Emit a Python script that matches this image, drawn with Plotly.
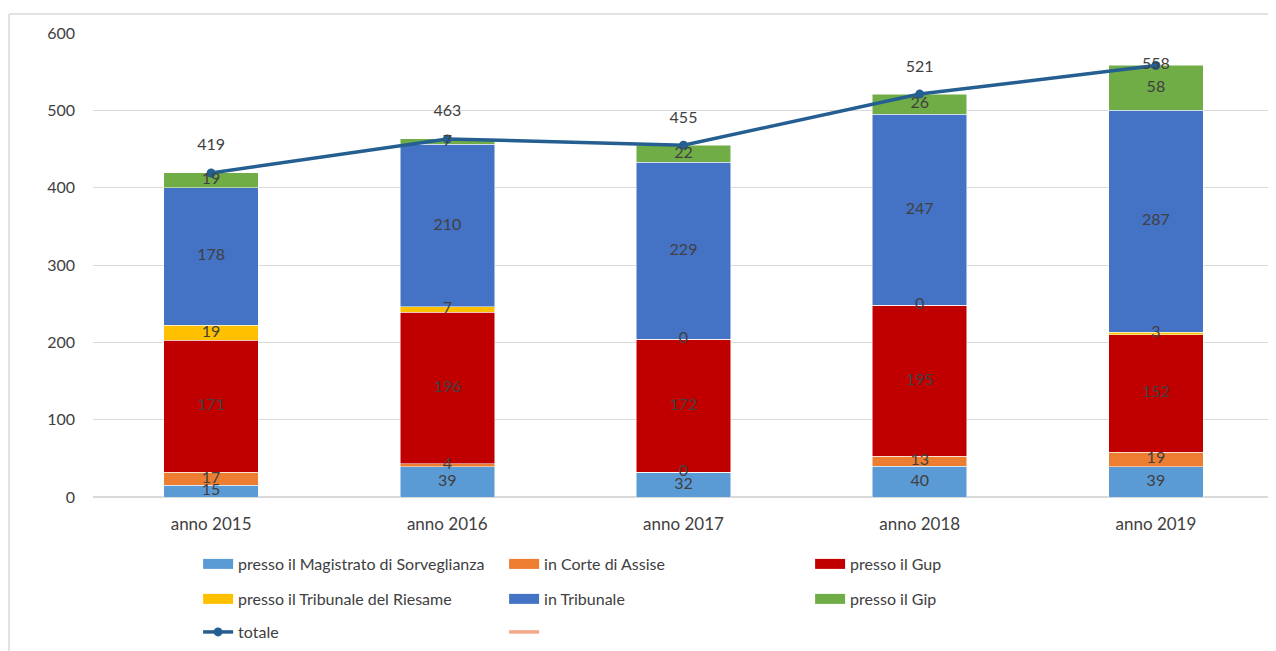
# Grafico a barre impilate con linea del totale
import plotly.graph_objects as go

# Dati
anni = ["anno 2015", "anno 2016", "anno 2017", "anno 2018", "anno 2019"]
magistrato = [15, 39, 32, 40, 39]
corte_assise = [17, 4, 0, 13, 19]
gup = [171, 196, 172, 195, 152]
riesame = [19, 7, 0, 0, 3]
tribunale = [178, 210, 229, 247, 287]
gip = [19, 7, 22, 26, 58]
totale = [419, 463, 455, 521, 558]

serie = [
    ("presso il Magistrato di Sorveglianza", magistrato, "#5B9BD5", "legend"),
    ("in Corte di Assise", corte_assise, "#ED7D31", "legend"),
    ("presso il Gup", gup, "#C00000", "legend"),
    ("presso il Tribunale del Riesame", riesame, "#FFC000", "legend2"),
    ("in Tribunale", tribunale, "#4472C4", "legend2"),
    ("presso il Gip", gip, "#70AD47", "legend2"),
]

font = "Lato, Noto Sans, sans-serif"
grigio = "#404040"

fig = go.Figure()
base = [0] * len(anni)
lab_x, lab_y, lab_t = [], [], []
for nome, valori, colore, leg in serie:
    fig.add_trace(go.Bar(
        x=anni, y=valori, name=nome, marker_color=colore,
        marker_line=dict(color="white", width=0.5),
        legendgroup=nome, showlegend=False,
    ))
    # voce di legenda a rettangolo largo
    fig.add_trace(go.Scatter(
        x=[None], y=[None], name=nome, mode="lines", legendgroup=nome,
        line=dict(color=colore, width=10), legend=leg,
    ))
    # etichette al centro di ogni segmento (anche per gli zeri)
    for i, v in enumerate(valori):
        lab_x.append(anni[i])
        lab_y.append(base[i] + v / 2)
        lab_t.append(str(v))
        base[i] += v

fig.add_trace(go.Scatter(
    x=anni, y=totale, name="totale", mode="lines+markers",
    line=dict(color="#255E91", width=3.5), marker=dict(size=9, color="#255E91"),
    legend="legend3", cliponaxis=False,
))
# voce vuota in legenda (serie senza dati)
fig.add_trace(go.Scatter(
    x=[None], y=[None], name=" ", mode="lines",
    line=dict(color="#F4A88A", width=3.5), legend="legend3",
))

fig.add_trace(go.Scatter(
    x=lab_x, y=lab_y, text=lab_t, mode="text", showlegend=False,
    textfont=dict(family=font, size=16, color=grigio), cliponaxis=False,
    hoverinfo="skip",
))
# etichette del totale
pos = ["top center"] * 4 + ["middle center"]
fig.add_trace(go.Scatter(
    x=anni, y=totale, text=[str(v) for v in totale], mode="markers+text",
    marker=dict(size=[28, 28, 28, 28, 1], opacity=0), textposition=pos,
    showlegend=False, cliponaxis=False, hoverinfo="skip",
    textfont=dict(family=font, size=16, color=grigio),
))

leg_base = dict(orientation="h", x=0.089, xanchor="left", yanchor="middle",
                entrywidth=261, entrywidthmode="pixels",
                font=dict(family=font, size=16, color=grigio),
                traceorder="normal", bgcolor="rgba(0,0,0,0)")

fig.update_layout(
    width=1268, height=643,
    margin=dict(l=85, r=2, t=25, b=154),
    paper_bgcolor="white", plot_bgcolor="white",
    barmode="stack", bargap=0.6,
    font=dict(family=font, color=grigio),
    showlegend=True,
    legend=dict(leg_base, y=-0.1444),
    legend2=dict(leg_base, y=-0.2198),
    legend3=dict(leg_base, y=-0.291),
    xaxis=dict(tickfont=dict(size=17, color=grigio), showline=False,
               ticks="", showgrid=False, ticklabelstandoff=15),
    yaxis=dict(range=[0, 600], dtick=100, showgrid=True, gridcolor="#D9D9D9",
               gridwidth=1, zeroline=True, zerolinecolor="#D9D9D9",
               tickfont=dict(size=16, color=grigio), ticks="",
               ticklabelstandoff=17),
    shapes=[
        dict(type="line", xref="paper", yref="paper", x0=-0.0711, x1=1.01,
             y0=1.041, y1=1.041, line=dict(color="#D9D9D9", width=1.5)),
        dict(type="line", xref="paper", yref="paper", x0=-0.0711, x1=-0.0711,
             y0=1.041, y1=-0.5, line=dict(color="#D9D9D9", width=1.5)),
    ],
)

fig.write_html("out.html")
